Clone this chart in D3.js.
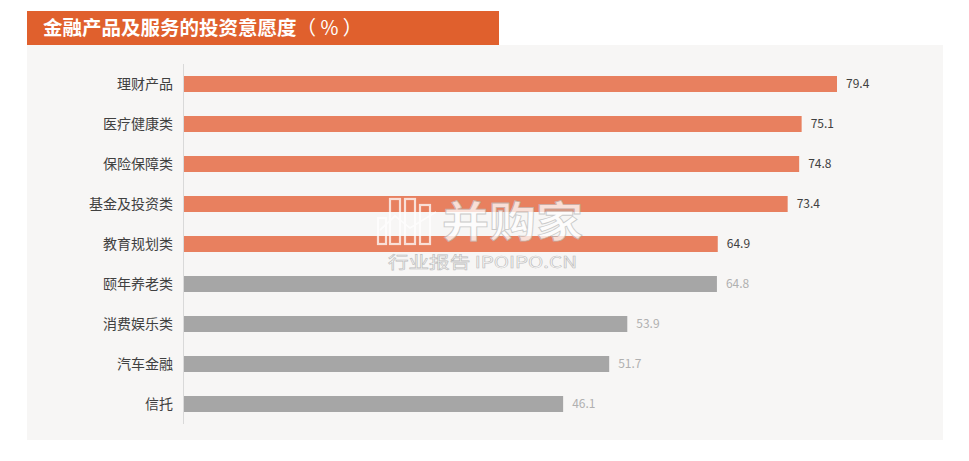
<!DOCTYPE html>
<html><head><meta charset="utf-8">
<script src="https://cdn.jsdelivr.net/npm/d3@7/dist/d3.min.js"></script>
<style>body{margin:0;background:#fff;font-family:"Noto Sans CJK SC","Noto Sans",sans-serif;}</style>
</head><body><svg id="c" width="969" height="461"></svg>
<script>
const categories = ["理财产品","医疗健康类","保险保障类","基金及投资类","教育规划类","颐年养老类","消费娱乐类","汽车金融","信托"];
const values = [79.4,75.1,74.8,73.4,64.9,64.8,53.9,51.7,46.1];
const highlighted = [true,true,true,true,true,false,false,false,false];
const title = "金融产品及服务的投资意愿度";
const titleUnit = "（ % ）";

const svg = d3.select("#c");
const font = '"Noto Sans CJK SC","Noto Sans",sans-serif';
svg.append("rect").attr("x",27).attr("y",45).attr("width",916).attr("height",395).attr("fill","#f7f6f5");
svg.append("rect").attr("x",27).attr("y",11).attr("width",472).attr("height",34).attr("fill","#e0602d");
const tt = svg.append("text").attr("x",43).attr("y",35).attr("fill","#fff").attr("font-size",19.5).attr("font-weight","bold").attr("font-family",font);
tt.append("tspan").text(title);
tt.append("tspan").attr("font-weight","normal").text(titleUnit);

const x = d3.scaleLinear().domain([0,79.4]).range([184,837]);
const y = d3.scaleBand().domain(categories).range([64,424]).paddingInner(0.6).paddingOuter(0.3);

svg.append("line").attr("x1",183.5).attr("x2",183.5).attr("y1",64).attr("y2",424).attr("stroke","#d9d9d9");

const g = svg.append("g");
g.selectAll("rect.bar").data(values).join("rect").attr("class","bar")
  .attr("x",x(0)).attr("y",(d,i)=>y(categories[i])).attr("height",y.bandwidth())
  .attr("width",d=>x(d)-x(0)).attr("fill",(d,i)=>highlighted[i]?"#e8805f":"#a6a6a6");
g.selectAll("text.cat").data(categories).join("text").attr("class","cat")
  .attr("x",173).attr("y",d=>y(d)+y.bandwidth()/2).attr("dy","0.35em").attr("text-anchor","end")
  .attr("font-size",14).attr("fill","#404040").attr("font-family",font).text(d=>d);
g.selectAll("text.val").data(values).join("text").attr("class","val")
  .attr("x",d=>x(d)+9).attr("y",(d,i)=>y(categories[i])+y.bandwidth()/2).attr("dy","0.35em")
  .attr("font-size",12).attr("fill",(d,i)=>highlighted[i]?"#404040":"#b0b0b0").attr("font-family",font)
  .text(d=>d.toFixed(1));

// watermark
const wm = svg.append("g").attr("opacity",0.75);
wm.append("text").attr("x",442).attr("y",237).attr("font-size",42).attr("font-weight","bold")
  .attr("textLength",141).attr("lengthAdjust","spacingAndGlyphs")
  .attr("fill","#fff").attr("stroke","#bbb").attr("stroke-width",0.8).attr("font-family",font).text("并购家");
wm.append("text").attr("x",388).attr("y",268).attr("font-size",16)
  .attr("textLength",189).attr("lengthAdjust","spacingAndGlyphs").attr("fill","#fff")
  .attr("stroke","#aaa").attr("stroke-width",0.6).attr("font-family",font).text("行业报告 IPOIPO.CN");
[[378,218,8,26],[390,199,10,45],[405,199,10,45],[420,205,10,39]].forEach(r=>{
  wm.append("rect").attr("x",r[0]).attr("y",r[1]).attr("width",r[2]).attr("height",r[3])
    .attr("fill","none").attr("stroke","#fff").attr("stroke-width",2.2);
});
wm.append("polyline").attr("points","380,230 395,216 410,228 436,212").attr("fill","none")
  .attr("stroke","#fff").attr("stroke-width",1.8);
</script></body></html>
